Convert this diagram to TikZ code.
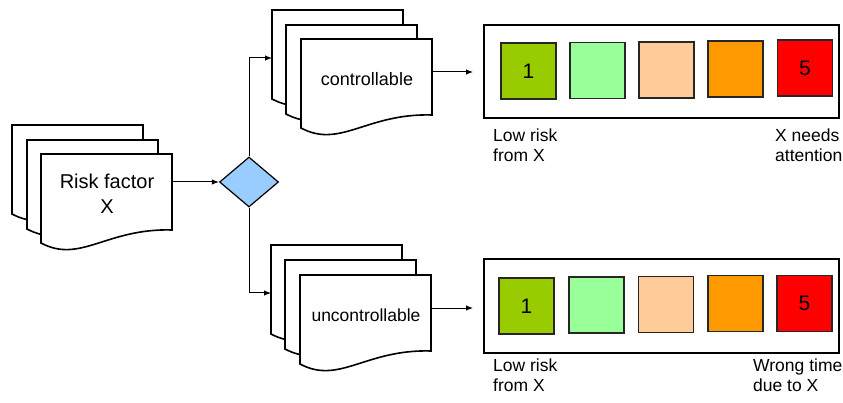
\documentclass[tikz,border=0pt]{standalone}
\usepackage{fontspec}
\setmainfont{Liberation Sans}
\usetikzlibrary{shapes.geometric,arrows.meta}
\definecolor{rone}{HTML}{99CC00}
\definecolor{rtwo}{HTML}{99FF99}
\definecolor{rthree}{HTML}{FFCC99}
\definecolor{rfour}{HTML}{FF9900}
\definecolor{rfive}{HTML}{FF0000}
\definecolor{dblue}{HTML}{99CCFF}
\tikzset{
  docline/.style={draw=black, line width=1.6pt, fill=white, line join=miter},
  arr/.style={line width=1pt, -{Latex[length=7pt,width=5.5pt]}},
  sq/.style={draw=black!85, line width=1.5pt, minimum width=55pt, minimum height=56pt, inner sep=0pt, font=\fontsize{21}{24}\selectfont},
  scalebox/.style={draw=black, line width=1.6pt, minimum width=355pt, minimum height=93pt, inner sep=0pt, anchor=north west},
  lbl/.style={anchor=north west, align=left, inner sep=0pt, font=\fontsize{17.5}{20}\selectfont},
  doctext/.style={align=center, inner sep=0pt},
}
\newcommand{\docpage}[2]{\draw[docline, shift={(#1,#2)}] (0,0) -- (131,0) -- (131,76) .. controls (65.5,74) and (39.3,110) .. (0,89) -- cycle;}
\begin{document}
\begin{tikzpicture}[x=1pt,y=-1pt]
\useasboundingbox (0,0) rectangle (843,403);
% Risk factor stack
\docpage{12}{125}
\docpage{27}{140}
\docpage{41}{154}
\node[doctext, font=\fontsize{20}{25}\selectfont] (rft) at (107,194) {Risk factor\\X};
\coordinate (rfout) at (173,182);
% diamond
\node[diamond, draw=black, line width=1.2pt, fill=dblue, minimum width=59pt, minimum height=50pt, inner sep=0pt] (d) at (249,182) {};
\draw[arr] (rfout) -- (d.west);
% controllable stack
\docpage{272}{10}
\docpage{286}{25}
\docpage{301}{39}
\node[doctext, font=\fontsize{18}{22}\selectfont] (ct) at (367,79) {controllable};
\coordinate (cin) at (272,58);
\coordinate (cout) at (432,72);
% uncontrollable stack
\docpage{271}{245}
\docpage{285}{260}
\docpage{300}{275}
\node[doctext, font=\fontsize{17.5}{22}\selectfont] (ut) at (366,315) {uncontrollable};
\coordinate (uin) at (271,293);
\coordinate (uout) at (432,308);
% branches
\draw[arr] (d.north) |- (cin);
\draw[arr] (d.south) |- (uin);
% scale boxes
\node[scalebox] (b1) at (483,24) {};
\node[scalebox, minimum height=94pt] (b2) at (483,258) {};
\draw[arr] (cout) -- (473,72) coordinate (cend);
\draw[arr] (uout) -- (473,308) coordinate (uend);
% squares row 1
\node[sq, fill=rone] (a1) at (528.5,71) {1};
\node[sq, fill=rtwo] (a2) at (597.5,70.5) {};
\node[sq, fill=rthree] (a3) at (666.5,70) {};
\node[sq, fill=rfour] (a4) at (735.5,69) {};
\node[sq, fill=rfive] (a5) at (805,68) {5};
% squares row 2
\node[sq, fill=rone] (s1) at (526.5,306) {1};
\node[sq, fill=rtwo] (s2) at (596.5,305) {};
\node[sq, fill=rthree] (s3) at (666,304.5) {};
\node[sq, fill=rfour] (s4) at (735.5,303.5) {};
\node[sq, fill=rfive] (s5) at (804.5,303.5) {5};
% labels
\node[lbl] (l1) at (493,129) {Low risk\\from X};
\node[lbl] (r1) at (775,129) {X needs\\attention};
\node[lbl] (l2) at (493,359) {Low risk\\from X};
\node[lbl] (r2) at (753,359) {Wrong time\\due to X};
\end{tikzpicture}
\end{document}
